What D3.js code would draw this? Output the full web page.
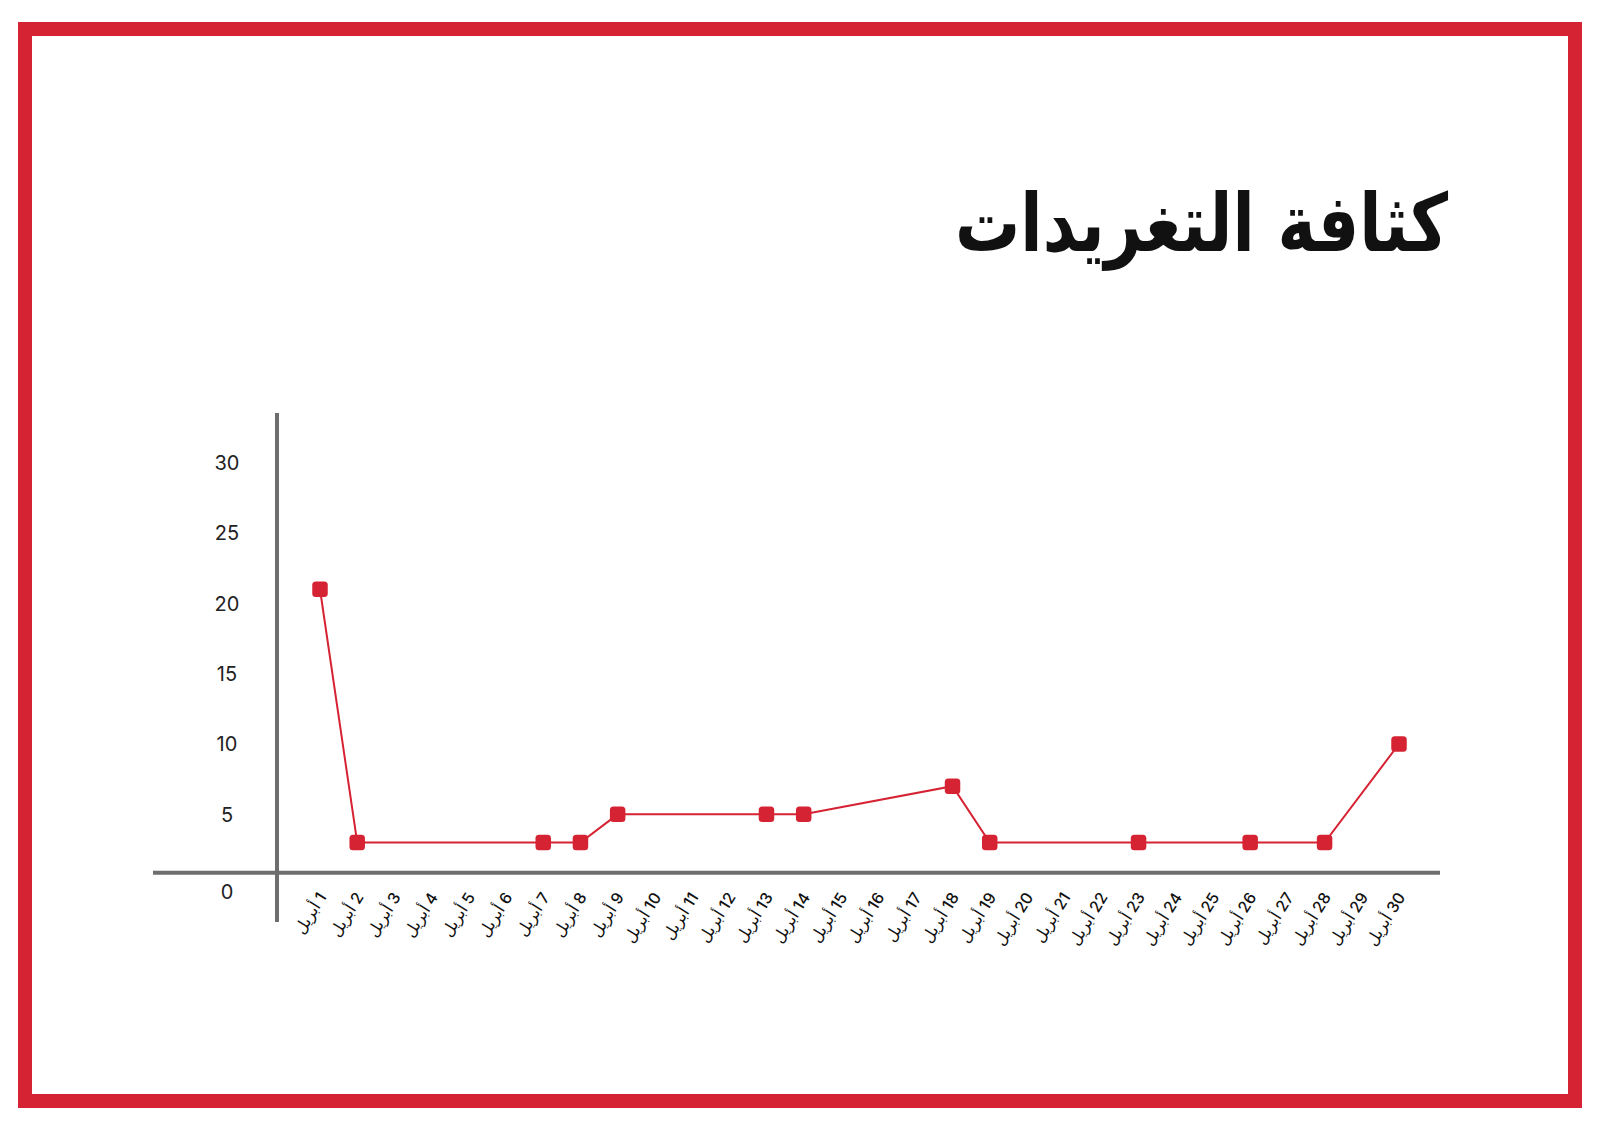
<!DOCTYPE html>
<html>
<head>
<meta charset="utf-8">
<script src="https://cdn.jsdelivr.net/npm/d3@7"></script>
<style>
html,body{margin:0;padding:0;background:#fff;}
svg{display:block;}
</style>
</head>
<body>
<svg id="chart" width="1600" height="1131"></svg>
<script>
// ---- data ----
const titleText = "كثافة التغريدات";
const monthLabel = "أبريل";
const days   = [1, 2, 7, 8, 9, 13, 14, 18, 19, 23, 26, 28, 30];
const values = [21, 3, 3, 3, 5, 5, 5, 7, 3, 3, 3, 3, 10];
const tickDays = [1,2,3,4,5,6,7,8,9,10,11,12,13,14,15,16,17,18,19,20,21,22,23,24,25,26,27,28,29,30];
const yTicks = [0, 5, 10, 15, 20, 25, 30];

// ---- styles ----
const red = "#d62333";
const axisGray = "#6e6e6e";

const svg = d3.select("#chart");

// frame
svg.append("rect")
  .attr("x", 25).attr("y", 29).attr("width", 1550).attr("height", 1072)
  .attr("fill", "none").attr("stroke", red).attr("stroke-width", 14);

// title (fit to reference width, keep tall glyphs)
const titleG = svg.append("g");
const title = titleG.append("text")
  .attr("x", 0).attr("y", 0)
  .attr("text-anchor", "end")
  .attr("font-family", "'DejaVu Sans', sans-serif")
  .attr("font-weight", "bold")
  .attr("font-size", 80)
  .attr("fill", "#111")
  .text(titleText);
const tw = title.node().getComputedTextLength();
const sx = Math.min(1.15, Math.max(0.8, 493 / tw));
titleG.attr("transform", `translate(1448,251) scale(${sx},1)`);

// scales
const x = d3.scaleLinear().domain([1, 30]).range([320, 1399]);
const y = d3.scaleLinear().domain([0, 30]).range([884.7, 462.6]);

// axes lines
svg.append("line")
  .attr("x1", 277).attr("x2", 277).attr("y1", 413).attr("y2", 922)
  .attr("stroke", axisGray).attr("stroke-width", 4);
svg.append("line")
  .attr("x1", 153).attr("x2", 1440).attr("y1", 872.7).attr("y2", 872.7)
  .attr("stroke", axisGray).attr("stroke-width", 4);

// y tick labels
svg.append("g").selectAll("text").data(yTicks).join("text")
  .attr("x", 227)
  .attr("y", d => y(d) + (d === 0 ? 7 : 0))
  .attr("dy", "0.36em")
  .attr("text-anchor", "middle")
  .attr("font-family", "Inter, 'DejaVu Sans', sans-serif")
  .attr("font-size", 20)
  .attr("fill", "#222")
  .text(d => d);

// x tick labels (rotated)
svg.append("g").selectAll("text").data(tickDays).join("text")
  .attr("transform", d => `translate(${x(d) + 7},${897}) rotate(-58)`)
  .attr("text-anchor", "end")
  .attr("font-family", "Inter, 'DejaVu Sans', sans-serif")
  .attr("font-size", 16)
  .attr("font-weight", 500)
  .attr("fill", "#111")
  .text(d => monthLabel + "\u200E " + d);

// line
const pts = days.map((d, i) => [d, values[i]]);
svg.append("path")
  .datum(pts)
  .attr("fill", "none")
  .attr("stroke", red)
  .attr("stroke-width", 2)
  .attr("d", d3.line().x(p => x(p[0])).y(p => y(p[1])));

// markers
const ms = 15.5;
svg.append("g").selectAll("rect").data(pts).join("rect")
  .attr("x", p => x(p[0]) - ms / 2)
  .attr("y", p => y(p[1]) - ms / 2)
  .attr("width", ms).attr("height", ms)
  .attr("rx", 3.5).attr("ry", 3.5)
  .attr("fill", red);
</script>
</body>
</html>
